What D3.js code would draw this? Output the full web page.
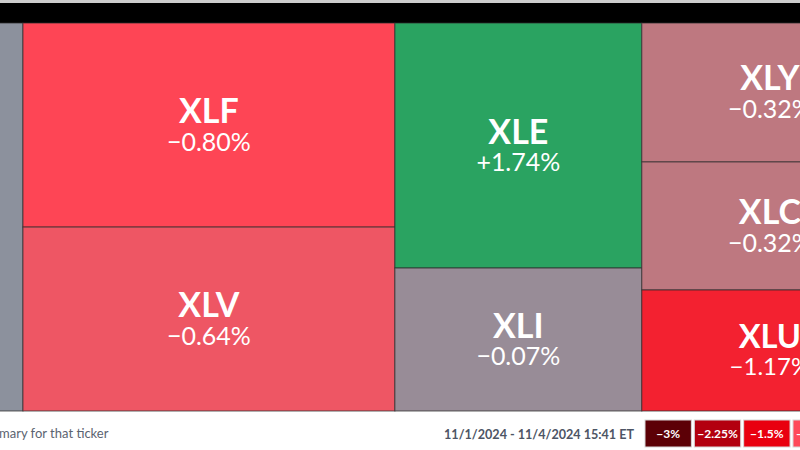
<!DOCTYPE html>
<html>
<head>
<meta charset="utf-8">
<script src="https://cdn.jsdelivr.net/npm/d3@7"></script>
<style>
  html, body { margin: 0; padding: 0; background: #fff; overflow: hidden; }
  svg { display: block; font-family: Lato, "Open Sans", sans-serif; }
</style>
</head>
<body>
<svg id="chart" width="800" height="450"></svg>
<script>
// ---- data ----
const tickers = ["XLK", "XLF", "XLV", "XLE", "XLI", "XLY", "XLC", "XLU"];
const columns = [0, 1, 1, 2, 2, 3, 3, 3];
const weights = [125.3, 75.9, 68.4, 60.5, 35.3, 35.6, 32.8, 31.0];
const changes = [0.02, -0.80, -0.64, 1.74, -0.07, -0.32, -0.32, -1.17];

const legendValues = [-3, -2.25, -1.5, -0.75, 0, 0.75, 1.5, 2.25, 3];
const legendLabels = ["\u22123%", "\u22122.25%", "\u22121.5%", "\u22120.75%", "0%", "+0.75%", "+1.5%", "+2.25%", "+3%"];
const footerNote = "mary for that ticker";
const dateRange = "11/1/2024 - 11/4/2024 15:41 ET";

// ---- setup ----
const W = 800, H = 450;
const svg = d3.select("#chart");

const color = d3.scaleLinear()
  .domain([-3, -2.25, -1.5, -0.75, -0.32, 0, 0.75, 1.5, 2.25, 3])
  .range(["#5c0006", "#b3000f", "#e9000f", "#ff4a5a", "#be7880", "#8d919e",
          "#6a9c82", "#33ad6b", "#178d4c", "#005a28"])
  .clamp(true);

const fmt = v => (v < 0 ? "\u2212" : "+") + Math.abs(v).toFixed(2) + "%";

// top bars
svg.append("rect").attr("x", 0).attr("y", 0).attr("width", W).attr("height", 3).attr("fill", "#cdcdcd");
svg.append("rect").attr("x", 0).attr("y", 3).attr("width", W).attr("height", 20).attr("fill", "#000");

// ---- treemap ----
const colIds = Array.from(new Set(columns));
const rootData = {
  children: colIds.map(c => ({
    children: tickers.map((t, i) => ({ ticker: t, weight: weights[i], change: changes[i], col: columns[i] }))
      .filter(d => d.col === c)
  }))
};

const root = d3.hierarchy(rootData).sum(d => d.weight || 0);

const tile = (node, x0, y0, x1, y1) => {
  if (node.depth === 0) d3.treemapDice(node, x0, y0, x1, y1);
  else d3.treemapSlice(node, x0, y0, x1, y1);
};

const mapX = -300, mapY = 23, mapW = 1198, mapH = 388;
d3.treemap().tile(tile).size([mapW, mapH]).round(false)(root);

const g = svg.append("g").attr("transform", `translate(${mapX},${mapY})`);
const leaves = root.leaves();

const cell = g.selectAll("g.cell").data(leaves).join("g").attr("class", "cell");
cell.append("rect")
  .attr("x", d => d.x0).attr("y", d => d.y0)
  .attr("width", d => d.x1 - d.x0).attr("height", d => d.y1 - d.y0)
  .attr("fill", d => color(d.data.change))
  .attr("stroke", "#2c2c2c").attr("stroke-opacity", 0.75).attr("stroke-width", 1);

const fs = d => Math.min(34, (d.y1 - d.y0) * 0.27);
const labeled = cell.filter(d => {
  const cx = mapX + (d.x0 + d.x1) / 2;
  return cx > 0 && cx < W + 40;
});
labeled.append("text")
  .attr("x", d => (d.x0 + d.x1) / 2)
  .attr("y", d => (d.y0 + d.y1) / 2 - 2)
  .attr("text-anchor", "middle")
  .attr("fill", "#fff").attr("font-weight", 700).attr("font-size", d => fs(d))
  .text(d => d.data.ticker);
labeled.append("text")
  .attr("x", d => (d.x0 + d.x1) / 2)
  .attr("y", d => (d.y0 + d.y1) / 2 - 2 + fs(d) * 0.82)
  .attr("text-anchor", "middle")
  .attr("fill", "#fff").attr("font-weight", 400).attr("font-size", d => fs(d) * 0.735)
  .text(d => fmt(d.data.change));

// ---- footer ----
svg.append("text").attr("x", -1).attr("y", 438)
  .attr("font-size", 13).attr("fill", "#5b6370").text(footerNote);
svg.append("text").attr("x", 634).attr("y", 439).attr("text-anchor", "end")
  .attr("font-size", 12.6).attr("font-weight", 700).attr("fill", "#4d5565").text(dateRange);

const lx = d3.scaleBand().domain(legendValues).range([645, 645 + 49 * legendValues.length]).paddingInner(0.06).paddingOuter(0);
const lg = svg.append("g").selectAll("g").data(legendValues).join("g");
lg.append("rect")
  .attr("x", d => lx(d)).attr("y", 420)
  .attr("width", lx.bandwidth()).attr("height", 27)
  .attr("fill", d => color(d))
  .attr("stroke", "#d8d8d8").attr("stroke-width", 1);
lg.append("text")
  .attr("x", d => lx(d) + lx.bandwidth() / 2).attr("y", 438)
  .attr("text-anchor", "middle").attr("fill", "#fff")
  .attr("font-size", 12).attr("font-weight", 700)
  .text((d, i) => legendLabels[i]);
</script>
</body>
</html>
